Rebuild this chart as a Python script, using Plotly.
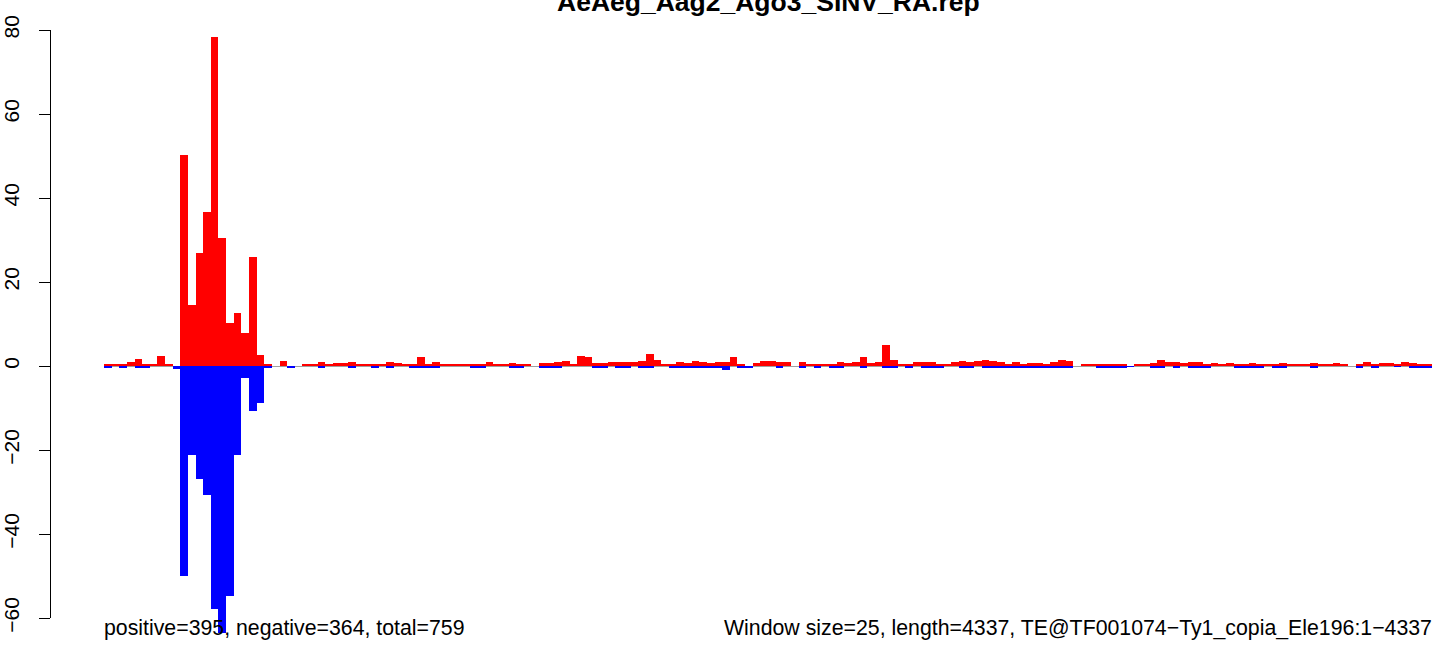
import plotly.graph_objects as go

# Window index (window size 25 over length 4337 -> 174 windows)
window_index = list(range(174))

positive = [
    0.5, 0.5, 0.5, 1.0, 1.7, 0.5, 0.25, 2.4, 0.25, 0,
    50.2, 14.5, 26.9, 36.7, 78.3, 30.5, 10.2, 12.6, 7.9, 26.0,
    2.6, 0.5, 0, 1.2, 0, 0, 0.25, 0.25, 1.0, 0.25,
    0.7, 0.7, 1.0, 0.5, 0.5, 0.5, 0.5, 1.0, 0.7, 0.5,
    0.25, 2.1, 0.25, 1.0, 0.25, 0.5, 0.5, 0.25, 0.25, 0.25,
    1.0, 0.25, 0.25, 0.7, 0.25, 0.25, 0, 0.7, 0.7, 1.0,
    1.2, 0.25, 2.4, 2.1, 0.7, 0.7, 1.0, 1.0, 1.0, 1.0,
    1.2, 2.9, 1.4, 0.5, 0.25, 1.0, 0.7, 1.2, 1.0, 0.7,
    1.0, 1.0, 2.1, 0.5, 0, 0.7, 1.2, 1.2, 1.0, 1.0,
    0, 1.0, 0.25, 0.25, 0.25, 0.5, 1.0, 0.7, 1.0, 2.1,
    0.7, 1.0, 5.0, 1.4, 0.5, 0.25, 1.0, 1.0, 1.0, 0.25,
    0.25, 1.0, 1.2, 1.0, 1.2, 1.4, 1.2, 1.0, 0.25, 1.0,
    0.25, 0.7, 0.7, 0.5, 1.0, 1.4, 1.2, 0, 0.25, 0.25,
    0.25, 0.25, 0.25, 0.25, 0, 0.25, 0.25, 0.7, 1.4, 1.0,
    1.0, 0.7, 1.0, 1.0, 0.25, 0.7, 0.25, 0.7, 0.25, 0.5,
    0.7, 0.5, 0.25, 0.25, 0.7, 0.25, 0.5, 0.5, 0.7, 0.5,
    0.5, 0.7, 0.25, 0, 0.25, 1.0, 0.5, 0.7, 0.7, 0.25,
    1.0, 0.7, 0.25, 0.25,
]

negative = [
    -0.25, 0, -0.5, 0, -0.25, -0.25, 0, 0, 0, -0.7,
    -49.9, -21.2, -26.8, -30.6, -57.8, -63.6, -54.8, -21.2, -2.9, -10.6,
    -8.7, -0.5, 0, 0, -0.25, 0, 0, 0, -0.25, 0,
    0, 0, -0.25, 0, 0, -0.25, 0, -0.25, 0, 0,
    -0.5, -0.25, -0.25, -0.25, 0, 0, 0, 0, -0.25, -0.25,
    0, 0, 0, -0.25, -0.25, 0, 0, -0.25, -0.25, -0.25,
    0, 0, 0, 0, -0.25, -0.25, 0, -0.25, -0.25, 0,
    -0.5, -0.25, 0, 0, -0.5, -0.25, -0.25, -0.25, -0.25, -0.25,
    -0.25, -1.0, 0, -0.5, -0.25, 0, 0, 0, -0.25, 0,
    0, -0.25, 0, -0.5, 0, -0.5, -0.25, 0, 0, -0.5,
    0, 0, -0.25, -0.25, 0, -0.25, 0, -0.5, -0.5, -0.25,
    0, 0, -0.25, -0.25, 0, -0.25, -0.25, -0.25, -0.25, -0.25,
    -0.25, -0.25, -0.25, -0.25, -0.25, -0.25, -0.25, 0, 0, 0,
    -0.25, -0.25, -0.25, -0.5, -0.1, 0, 0, -0.25, -0.25, 0,
    -0.5, 0, -0.25, -0.25, -0.25, 0, 0, 0, -0.25, -0.25,
    -0.5, -0.25, 0, -0.25, -0.25, 0, 0, 0, -0.25, 0,
    0, 0, 0, 0, -0.25, 0, -0.25, 0, 0, -0.1,
    0, -0.5, -0.25, -0.25,
]

ytick_vals = [-60, -40, -20, 0, 20, 40, 60, 80]

title_text = "AeAeg_Aag2_Ago3_SINV_RA.rep"
left_note = "positive=395, negative=364, total=759"
right_note = "Window size=25, length=4337, TE@TF001074\u2212Ty1_copia_Ele196:1\u22124337"

W, H = 1444, 656
FONT = "Liberation Sans, Arial, Helvetica, sans-serif"

def fx(p):
    return p / W
def fy(p):
    return 1 - p / H

# pixel geometry of the R plot
px_left, px_right = 104, 1432
px_zero, px_per_unit = 366, 4.2
y_top_val = px_zero / px_per_unit
y_bot_val = -(H - px_zero) / px_per_unit

fig = go.Figure()
fig.add_trace(go.Bar(x=window_index, y=positive, width=1,
                     marker=dict(color="#FF0000", line=dict(width=0)),
                     showlegend=False))
fig.add_trace(go.Bar(x=window_index, y=negative, width=1,
                     marker=dict(color="#0000FF", line=dict(width=0)),
                     showlegend=False))
# empty trace so that the visible R-style axis (y2) is drawn
fig.add_trace(go.Scatter(x=[], y=[], xaxis="x", yaxis="y2", showlegend=False))

fig.update_layout(
    width=W, height=H,
    margin=dict(l=0, r=0, t=0, b=0, autoexpand=False),
    paper_bgcolor="white", plot_bgcolor="rgba(0,0,0,0)",
    barmode="overlay", bargap=0,
    font=dict(family=FONT, size=21, color="black"),
    xaxis=dict(domain=[fx(px_left), fx(px_right)], range=[-0.5, 173.5],
               visible=False),
    yaxis=dict(domain=[0, 1], range=[y_bot_val, y_top_val],
               showticklabels=False, ticks="", showgrid=False, showline=False,
               zeroline=True, zerolinecolor="#A0A0A0", zerolinewidth=1),
    yaxis2=dict(domain=[fy(618), fy(30)], range=[-60, 80],
                anchor="free", position=fx(50), side="left",
                showline=True, linecolor="black", linewidth=1,
                ticks="outside", ticklen=11, tickwidth=1, tickcolor="black",
                tickvals=ytick_vals, tickangle=-90, ticklabelstandoff=12,
                showgrid=False, zeroline=False,
                tickfont=dict(family=FONT, size=21, color="black")),
    annotations=[
        dict(text="<b>" + title_text + "</b>", xref="paper", yref="paper",
             x=fx((px_left + px_right) / 2), y=fy(2), xanchor="center",
             yanchor="middle", showarrow=False,
             font=dict(family=FONT, size=26.5, color="black")),
        dict(text=left_note, xref="paper", yref="paper",
             x=fx(px_left - 2), y=fy(628), xanchor="left", yanchor="middle",
             showarrow=False, font=dict(family=FONT, size=21.3, color="black")),
        dict(text=right_note, xref="paper", yref="paper",
             x=fx(px_right + 2), y=fy(628), xanchor="right", yanchor="middle",
             showarrow=False, font=dict(family=FONT, size=21.3, color="black")),
    ],
)

fig.write_html("out.html", config={"displayModeBar": False},
               post_script="document.body.style.margin='0px';")
